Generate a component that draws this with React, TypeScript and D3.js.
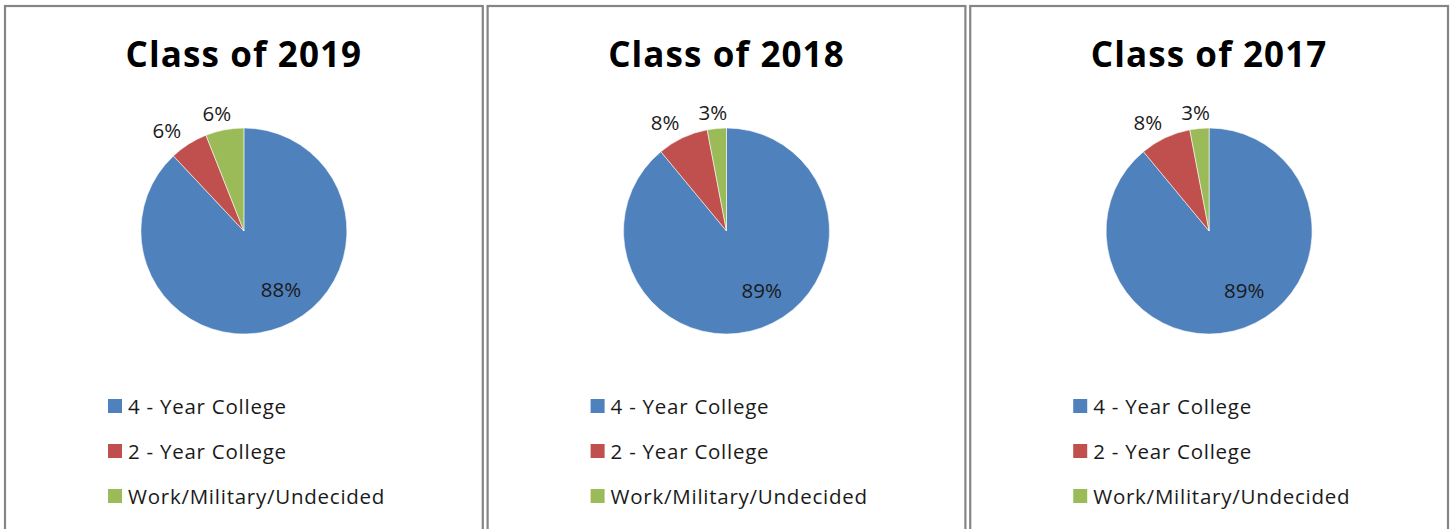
import React from "react";
import * as d3 from "d3";

const categories = ["4 - Year College", "2 - Year College", "Work/Military/Undecided"];
const titles = ["Class of 2019", "Class of 2018", "Class of 2017"];
const values2019 = [88, 6, 6];
const values2018 = [89, 8, 3];
const values2017 = [89, 8, 3];
const seriesValues = [values2019, values2018, values2017];
const colors = ["#4F81BD", "#C0504D", "#9BBB59"];

const W = 1455;
const H = 529;
const FONT = "'Open Sans', 'Noto Sans', sans-serif";

export default function App() {
  const panelX = d3.scaleBand<string>().domain(titles).range([5, 1448]).paddingInner(0.01);
  const bw = panelX.bandwidth();
  const r = 103;
  const pieGen = d3.pie<number>().sort(null).value((d) => d).startAngle(0).endAngle(2 * Math.PI);
  const arcGen = d3.arc<d3.PieArcDatum<number>>().innerRadius(0).outerRadius(r);
  const legendY = d3.scalePoint<string>().domain(categories).range([406, 496]);

  const labelPos = (a: d3.PieArcDatum<number>): [number, number] => {
    const mid = (a.startAngle + a.endAngle) / 2;
    const big = a.endAngle - a.startAngle > Math.PI;
    if (big) {
      const ang = mid - 0.19;
      const rad = r * 0.67;
      return [Math.sin(ang) * rad, -Math.cos(ang) * rad];
    }
    const dx = Math.sin(mid);
    const dy = -Math.cos(mid);
    const rad = r * 1.165;
    return [dx * (rad + 24), dy * rad];
  };

  return (
    <svg
      width={W}
      height={H}
      style={{ position: "absolute", left: 0, top: 0, display: "block", background: "#fff" }}
    >
      {titles.map((t, i) => {
        const x0 = panelX(t) as number;
        const cx = x0 + bw / 2;
        const cy = 231;
        const arcs = pieGen(seriesValues[i]);
        return (
          <g key={t}>
            <rect x={x0} y={6} width={bw} height={H + 20} fill="#fff" stroke="#858585" strokeWidth={2.2} />
            <text
              x={cx}
              y={67}
              textAnchor="middle"
              fontFamily={FONT}
              fontWeight={700}
              fontSize={35}
              letterSpacing={1.1}
              fill="#000"
            >
              {t}
            </text>
            <g transform={`translate(${cx},${cy})`}>
              {arcs.map((a, j) => (
                <path key={j} d={arcGen(a) as string} fill={colors[j]} stroke="#ffffff" strokeWidth={0.8} strokeOpacity={0.7} />
              ))}
              {arcs.map((a, j) => {
                const [lx, ly] = labelPos(a);
                return (
                  <text
                    key={"l" + j}
                    x={lx}
                    y={ly}
                    textAnchor="middle"
                    dominantBaseline="central"
                    fontFamily={FONT}
                    fontSize={20.5}
                    fill="#1a1a1a"
                  >
                    {a.data}%
                  </text>
                );
              })}
            </g>
            {categories.map((c, j) => {
              const y = legendY(c) as number;
              return (
                <g key={c}>
                  <rect x={x0 + 103} y={y - 7} width={14} height={14} fill={colors[j]} />
                  <text
                    x={x0 + 123}
                    y={y}
                    dominantBaseline="central"
                    fontFamily={FONT}
                    fontSize={20.5}
                    letterSpacing={0.75}
                    fill="#1a1a1a"
                  >
                    {c}
                  </text>
                </g>
              );
            })}
          </g>
        );
      })}
    </svg>
  );
}
